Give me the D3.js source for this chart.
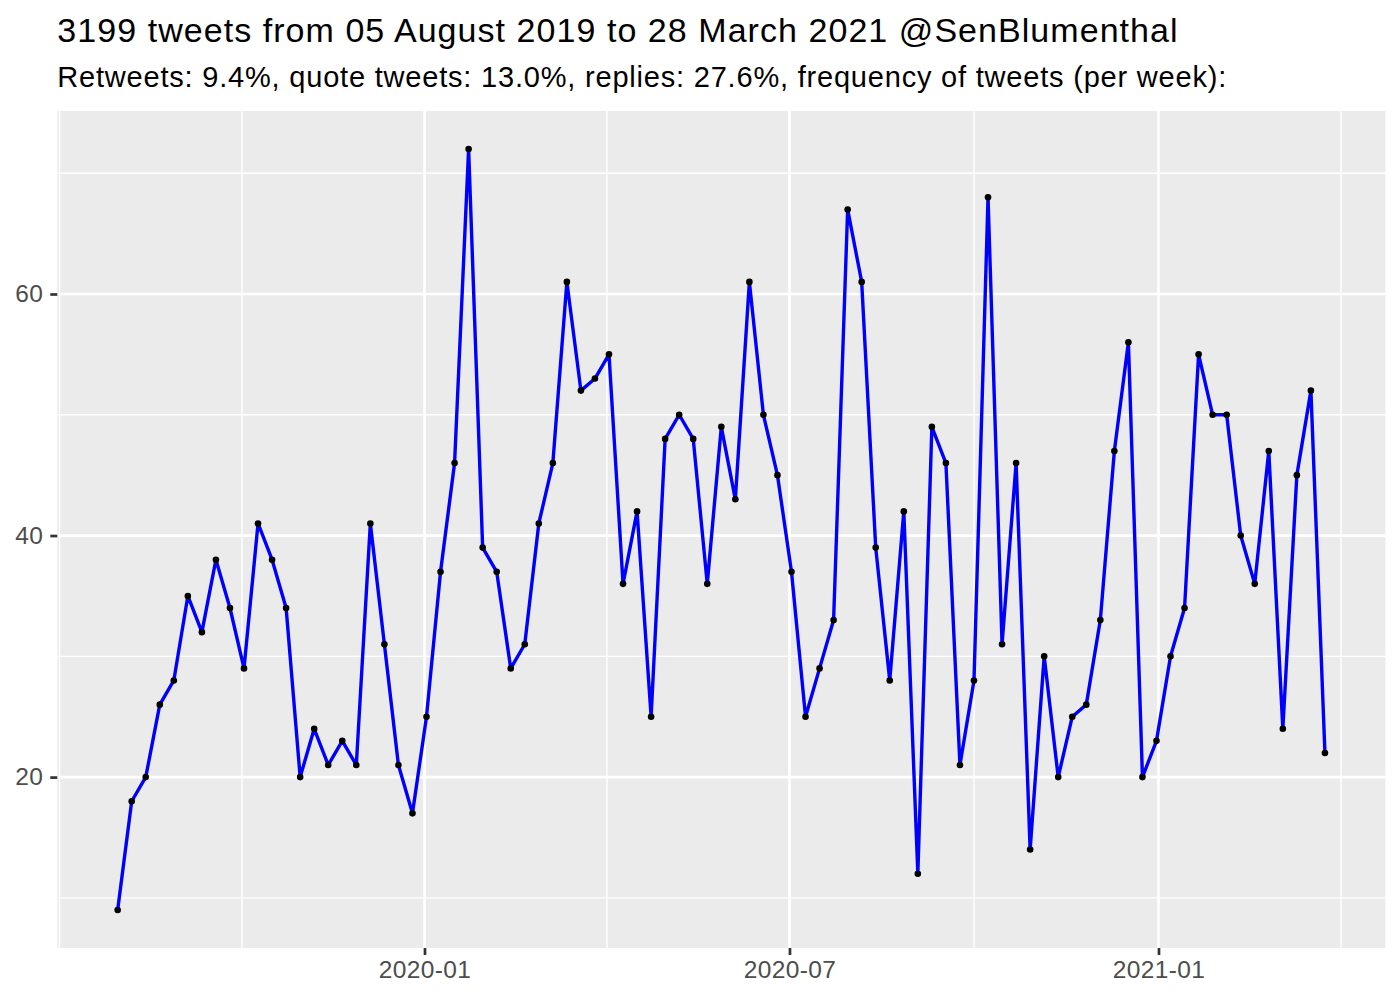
<!DOCTYPE html>
<html>
<head>
<meta charset="utf-8">
<script src="https://cdn.jsdelivr.net/npm/d3@7"></script>
<style>
  html, body { margin: 0; padding: 0; background: #ffffff; }
  svg { display: block; }
  text { font-family: "Liberation Sans", Arial, Helvetica, sans-serif; }
</style>
</head>
<body>
<svg id="chart" width="1400" height="1000"></svg>
<script>
// ---- data ----
const weeks = [
  "2019-08-01","2019-08-08","2019-08-15","2019-08-22","2019-08-29","2019-09-05","2019-09-12","2019-09-19","2019-09-26",
  "2019-10-03","2019-10-10","2019-10-17","2019-10-24","2019-10-31","2019-11-07","2019-11-14","2019-11-21","2019-11-28",
  "2019-12-05","2019-12-12","2019-12-19","2019-12-26",
  "2020-01-02","2020-01-09","2020-01-16","2020-01-23","2020-01-30","2020-02-06","2020-02-13","2020-02-20","2020-02-27",
  "2020-03-05","2020-03-12","2020-03-19","2020-03-26","2020-04-02","2020-04-09","2020-04-16","2020-04-23","2020-04-30",
  "2020-05-07","2020-05-14","2020-05-21","2020-05-28","2020-06-04","2020-06-11","2020-06-18","2020-06-25","2020-07-02",
  "2020-07-09","2020-07-16","2020-07-23","2020-07-30","2020-08-06","2020-08-13","2020-08-20","2020-08-27","2020-09-03",
  "2020-09-10","2020-09-17","2020-09-24","2020-10-01","2020-10-08","2020-10-15","2020-10-22","2020-10-29","2020-11-05",
  "2020-11-12","2020-11-19","2020-11-26","2020-12-03","2020-12-10","2020-12-17","2020-12-24","2020-12-31",
  "2021-01-07","2021-01-14","2021-01-21","2021-01-28","2021-02-04","2021-02-11","2021-02-18","2021-02-25",
  "2021-03-04","2021-03-11","2021-03-18","2021-03-25"
];
const tweetCounts = [
  9,18,20,26,28,35,32,38,34,29,
  41,38,34,20,24,21,23,21,41,31,
  21,17,25,37,46,72,39,37,29,31,
  41,46,61,52,53,55,36,42,25,48,
  50,48,36,49,43,61,50,45,37,25,
  29,33,67,61,39,28,42,12,49,46,
  21,28,68,31,46,14,30,20,25,26,
  33,47,56,20,23,30,34,55,50,50,
  40,36,47,24,45,52,22
];
const xMajorTicks = ["2020-01-01","2020-07-01","2021-01-01"];
const xMajorLabels = ["2020-01","2020-07","2021-01"];
const xMinorTicks = ["2019-07-03","2019-10-02","2020-04-01","2020-10-01","2021-04-02"];
const yMajorTicks = [20,40,60];
const yMinorTicks = [10,30,50,70];
const titleText = "3199 tweets from 05 August 2019 to 28 March 2021 @SenBlumenthal";
const subtitleText = "Retweets: 9.4%, quote tweets: 13.0%, replies: 27.6%, frequency of tweets (per week):";

// ---- layout ----
const panel = { left: 57.3, right: 1385.3, top: 111, bottom: 948 };
const parse = d3.utcParse("%Y-%m-%d");
const data = weeks.map((w, i) => ({ date: parse(w), value: tweetCounts[i] }));

const xExt = d3.extent(data, d => d.date.getTime());
const xPad = (xExt[1] - xExt[0]) * 0.05;
const x = d3.scaleUtc()
  .domain([new Date(xExt[0] - xPad), new Date(xExt[1] + xPad)])
  .range([panel.left, panel.right]);

const yExt = d3.extent(tweetCounts);
const yPad = (yExt[1] - yExt[0]) * 0.05;
const y = d3.scaleLinear()
  .domain([yExt[0] - yPad, yExt[1] + yPad])
  .range([panel.bottom, panel.top]);

const svg = d3.select("#chart");

// title / subtitle
svg.append("text").attr("x", 57.3).attr("y", 42.3)
  .attr("font-size", 34).attr("letter-spacing", 1.05).attr("fill", "#000").text(titleText);
svg.append("text").attr("x", 57.3).attr("y", 87.3)
  .attr("font-size", 29).attr("letter-spacing", 0.8).attr("fill", "#000").text(subtitleText);

// panel background
svg.append("rect")
  .attr("x", panel.left).attr("y", panel.top)
  .attr("width", panel.right - panel.left).attr("height", panel.bottom - panel.top)
  .attr("fill", "#EBEBEB");

const grid = svg.append("g");
// minor gridlines
grid.selectAll(".ymin").data(yMinorTicks).join("line")
  .attr("x1", panel.left).attr("x2", panel.right)
  .attr("y1", d => y(d)).attr("y2", d => y(d))
  .attr("stroke", "#fff").attr("stroke-width", 1.35);
grid.selectAll(".xmin").data(xMinorTicks.map(parse)).join("line")
  .attr("y1", panel.top).attr("y2", panel.bottom)
  .attr("x1", d => x(d)).attr("x2", d => x(d))
  .attr("stroke", "#fff").attr("stroke-width", 1.35);
// major gridlines
grid.selectAll(".ymaj").data(yMajorTicks).join("line")
  .attr("x1", panel.left).attr("x2", panel.right)
  .attr("y1", d => y(d)).attr("y2", d => y(d))
  .attr("stroke", "#fff").attr("stroke-width", 2.7);
grid.selectAll(".xmaj").data(xMajorTicks.map(parse)).join("line")
  .attr("y1", panel.top).attr("y2", panel.bottom)
  .attr("x1", d => x(d)).attr("x2", d => x(d))
  .attr("stroke", "#fff").attr("stroke-width", 2.7);

// clip to panel
svg.append("clipPath").attr("id", "clip").append("rect")
  .attr("x", panel.left).attr("y", panel.top)
  .attr("width", panel.right - panel.left).attr("height", panel.bottom - panel.top);
grid.attr("clip-path", "url(#clip)");

// axes
const xAxis = d3.axisBottom(x)
  .tickValues(xMajorTicks.map(parse))
  .tickFormat((d, i) => xMajorLabels[i])
  .tickSize(7).tickPadding(6);
const gx = svg.append("g").attr("transform", `translate(0,${panel.bottom})`).call(xAxis);
gx.select(".domain").remove();
gx.selectAll(".tick line").attr("stroke", "#333333").attr("stroke-width", 2.7);
gx.selectAll(".tick text").attr("fill", "#4D4D4D").attr("font-size", 24.5).attr("letter-spacing", 0.4)
  .attr("font-family", "Liberation Sans, Arial, sans-serif");

const yAxis = d3.axisLeft(y).tickValues(yMajorTicks).tickSize(7).tickPadding(7);
const gy = svg.append("g").attr("transform", `translate(${panel.left},0)`).call(yAxis);
gy.select(".domain").remove();
gy.selectAll(".tick line").attr("stroke", "#333333").attr("stroke-width", 2.7);
gy.selectAll(".tick text").attr("fill", "#4D4D4D").attr("font-size", 24.5).attr("letter-spacing", 0.4)
  .attr("font-family", "Liberation Sans, Arial, sans-serif");

// line
const line = d3.line().x(d => x(d.date)).y(d => y(d.value));
svg.append("path").datum(data)
  .attr("d", line)
  .attr("fill", "none").attr("stroke", "#0000FF")
  .attr("stroke-width", 3.4).attr("stroke-linejoin", "round");

// points
svg.append("g").selectAll("circle").data(data).join("circle")
  .attr("cx", d => x(d.date)).attr("cy", d => y(d.value))
  .attr("r", 3.3).attr("fill", "#000");
</script>
</body>
</html>
